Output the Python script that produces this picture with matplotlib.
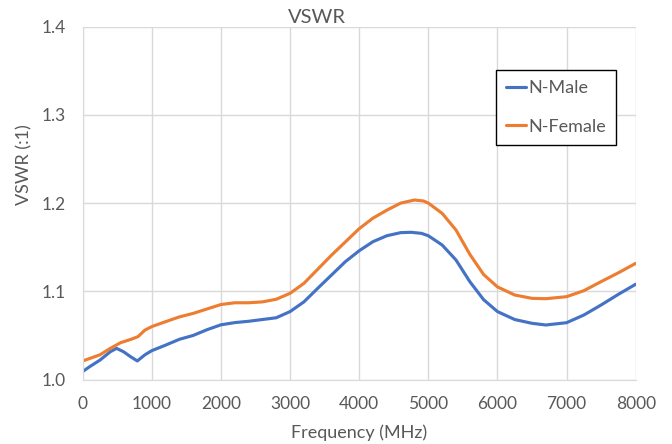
import matplotlib
matplotlib.use("Agg")
import matplotlib.pyplot as plt

plt.rcParams['font.family'] = ['Lato', 'DejaVu Sans']

male_freq = [0, 100, 250, 400, 490, 590, 690, 790, 900, 1000, 1200, 1400, 1600, 1800,
             2000, 2200, 2400, 2600, 2800, 3000, 3200, 3400, 3600, 3800, 4000, 4200,
             4400, 4600, 4750, 4900, 5000, 5200, 5400, 5600, 5800, 6000, 6250, 6500,
             6700, 7000, 7250, 7500, 7750, 8000]
male_vswr = [1.009, 1.0145, 1.022, 1.0315, 1.0353, 1.0315, 1.026, 1.021, 1.028, 1.0327,
             1.039, 1.0456, 1.050, 1.0565, 1.062, 1.0645, 1.066, 1.068, 1.070, 1.077,
             1.088, 1.1034, 1.1185, 1.1336, 1.146, 1.1563, 1.163, 1.1665, 1.1669, 1.1657,
             1.163, 1.1525, 1.1355, 1.111, 1.0905, 1.077, 1.068, 1.0637, 1.0618, 1.0644,
             1.0731, 1.0845, 1.0966, 1.108]

female_freq = [0, 250, 400, 550, 700, 800, 900, 1000, 1200, 1400, 1600, 1800, 2000, 2200,
               2400, 2600, 2800, 3000, 3200, 3400, 3600, 3800, 4000, 4200, 4400, 4600,
               4800, 4930, 5000, 5200, 5400, 5600, 5800, 6000, 6250, 6500, 6700, 7000,
               7250, 7500, 7750, 8000]
female_vswr = [1.021, 1.028, 1.0353, 1.0418, 1.0456, 1.0486, 1.056, 1.060, 1.0656, 1.071,
               1.075, 1.080, 1.085, 1.087, 1.087, 1.088, 1.091, 1.0977, 1.109, 1.125,
               1.141, 1.156, 1.171, 1.183, 1.192, 1.200, 1.2035, 1.2024, 1.200, 1.1884,
               1.1695, 1.142, 1.119, 1.105, 1.0958, 1.092, 1.0916, 1.0939, 1.1007, 1.111,
               1.121, 1.1317]

x_ticks = [0, 1000, 2000, 3000, 4000, 5000, 6000, 7000, 8000]
y_ticks = [1.0, 1.1, 1.2, 1.3, 1.4]

text_c = '#595959'
grid_c = '#D9D9D9'
W, H = 672, 444

fig = plt.figure(figsize=(6.72, 4.44), dpi=100)
ax = fig.add_axes([82.7 / W, 1 - 379.5 / H, 553 / W, 352.8 / H])

ax.plot(male_freq, male_vswr, color='#4472C4', lw=2.25, label='N-Male',
        solid_capstyle='round', solid_joinstyle='round')
ax.plot(female_freq, female_vswr, color='#ED7D31', lw=2.25, label='N-Female',
        solid_capstyle='round', solid_joinstyle='round')

ax.set_xlim(0, 8000)
ax.set_ylim(1.0, 1.4)
ax.set_xticks(x_ticks)
ax.set_yticks(y_ticks)
ax.set_yticklabels([f'{v:.1f}' for v in y_ticks])
ax.grid(True, color=grid_c, lw=1)
ax.set_axisbelow(True)
for s in ax.spines.values():
    s.set_visible(False)
ax.spines['bottom'].set_visible(True)
ax.spines['bottom'].set_color(grid_c)
ax.spines['left'].set_visible(True)
ax.spines['left'].set_color(grid_c)
ax.tick_params(length=0, labelsize=12.5, colors=text_c)
ax.tick_params(axis='x', pad=12)
ax.tick_params(axis='y', pad=12)

fig.text(316.5 / W, 1 - 23.3 / H, 'VSWR', fontsize=14.5, color=text_c,
         ha='center', va='baseline')
fig.text(359.2 / W, 1 - 433 / H, 'Frequency (MHz)', fontsize=13, color=text_c,
         ha='center', va='center')
fig.text(24 / W, 1 - 165 / H, 'VSWR (:1)', fontsize=13, color=text_c,
         ha='center', va='center', rotation=90)

leg = ax.legend(loc='upper left', bbox_to_anchor=((496 - 82.7) / 553, (379.5 - 70) / 352.8),
                fontsize=13, frameon=True, fancybox=False, edgecolor='black', framealpha=1,
                handlelength=1.1, handletextpad=0.11, labelspacing=1.235,
                borderpad=0.57, borderaxespad=0)
leg.get_frame().set_linewidth(1)
for t in leg.get_texts():
    t.set_color(text_c)

fig.savefig('out.png', dpi=100)
